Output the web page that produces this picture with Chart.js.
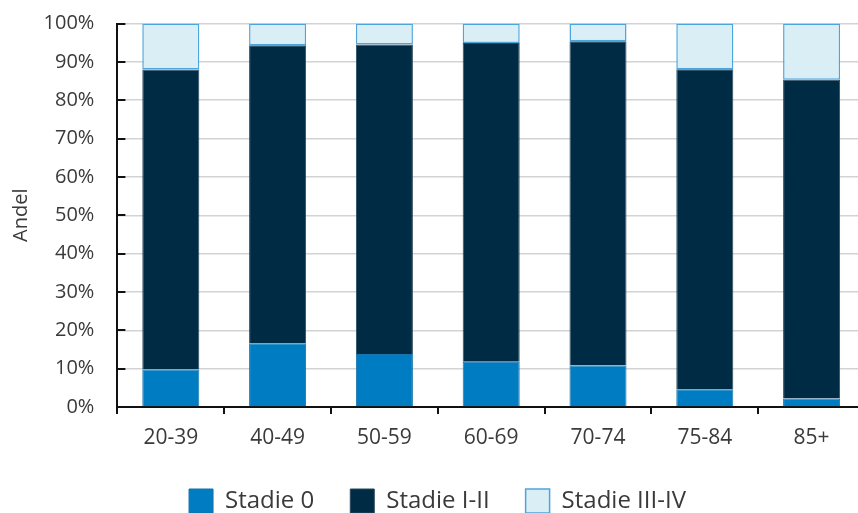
<!DOCTYPE html>
<html>
<head>
<meta charset="utf-8">
<script src="https://cdn.jsdelivr.net/npm/chart.js@4/dist/chart.umd.min.js"></script>
<style>
  html, body { margin: 0; padding: 0; background: #ffffff; overflow: hidden; }
  #wrap { width: 865px; height: 523px; position: relative; }
</style>
</head>
<body>
<div id="wrap"><canvas id="chart"></canvas></div>
<script>
// Age groups on the x axis
const ageGroups = ['20-39', '40-49', '50-59', '60-69', '70-74', '75-84', '85+'];

// Share of each stage per age group (percent)
const stage0 = [9.8, 16.6, 13.8, 11.8, 10.8, 4.6, 2.2];
const stageI_II = [78.2, 77.7, 80.7, 83.1, 84.6, 83.5, 83.1];
const stageIII_IV = [12.0, 5.7, 5.5, 5.1, 4.6, 11.9, 14.7];

// Series names shown in the legend
const seriesNames = ['Stadie 0', 'Stadie I-II', 'Stadie III-IV'];

// Y axis range and tick step (percent)
const yMin = 0, yMax = 100, yStep = 10;

const textColor = '#3a3a3a';
const fontFamily = '"Open Sans", "Noto Sans", sans-serif';

// Short tick marks drawn inside the plot along the y axis
const innerYTicks = {
  id: 'innerYTicks',
  afterDatasetsDraw(chart) {
    const { ctx, chartArea, scales } = chart;
    const y = scales.y;
    ctx.save();
    ctx.strokeStyle = '#111111';
    ctx.lineWidth = 2;
    y.ticks.forEach(t => {
      const py = Math.round(y.getPixelForValue(t.value));
      ctx.beginPath();
      ctx.moveTo(chartArea.left, py);
      ctx.lineTo(chartArea.left + 8, py);
      ctx.stroke();
    });
    ctx.restore();
  }
};

new Chart(document.getElementById('chart'), {
  type: 'bar',
  data: {
    labels: ageGroups,
    datasets: [
      {
        label: seriesNames[0],
        data: stage0,
        backgroundColor: '#007cc2',
        borderColor: '#1673ab',
        borderWidth: 1
      },
      {
        label: seriesNames[1],
        data: stageI_II,
        backgroundColor: '#002b45',
        borderColor: '#2b4a5f',
        borderWidth: 1
      },
      {
        label: seriesNames[2],
        data: stageIII_IV,
        backgroundColor: '#daeef6',
        borderColor: '#4da5db',
        borderWidth: 1.5,
        borderSkipped: false
      }
    ]
  },
  options: {
    responsive: true,
    maintainAspectRatio: false,
    devicePixelRatio: 1,
    animation: false,
    layout: { padding: { top: 23.5, left: 10, right: 0, bottom: 0 } },
    datasets: {
      bar: { barPercentage: 0.534, categoryPercentage: 1.0 }
    },
    scales: {
      x: {
        stacked: true,
        grid: {
          offset: true,
          drawOnChartArea: false,
          drawTicks: true,
          tickLength: 7,
          color: '#111111',
          lineWidth: 2
        },
        border: { display: true, color: '#111111', width: 2 },
        ticks: {
          color: textColor,
          padding: 11,
          font: { family: fontFamily, size: 21, weight: '400' }
        },
        afterFit(scale) { scale.height = 46; }
      },
      y: {
        stacked: true,
        min: yMin,
        max: yMax,
        grid: {
          color: '#d3d3d3',
          lineWidth: 1.5,
          drawTicks: true,
          tickLength: 23,
          tickColor: 'rgba(0,0,0,0)'
        },
        border: { display: true, color: '#111111', width: 2 },
        ticks: {
          stepSize: yStep,
          padding: 0,
          color: textColor,
          font: { family: fontFamily, size: 20, weight: '400' },
          callback: v => v + '%'
        },
        title: {
          display: true,
          text: 'Andel',
          color: textColor,
          padding: { top: -1, bottom: 0 },
          font: { family: fontFamily, size: 20, weight: '400' }
        },
        afterFit(scale) { scale.width = 107.4; }
      }
    },
    plugins: {
      legend: {
        position: 'bottom',
        labels: {
          boxWidth: 24,
          boxHeight: 24,
          padding: 36,
          color: textColor,
          font: { family: fontFamily, size: 24, weight: '400' }
        }
      },
      tooltip: { enabled: false }
    }
  },
  plugins: [innerYTicks]
});
</script>
</body>
</html>
